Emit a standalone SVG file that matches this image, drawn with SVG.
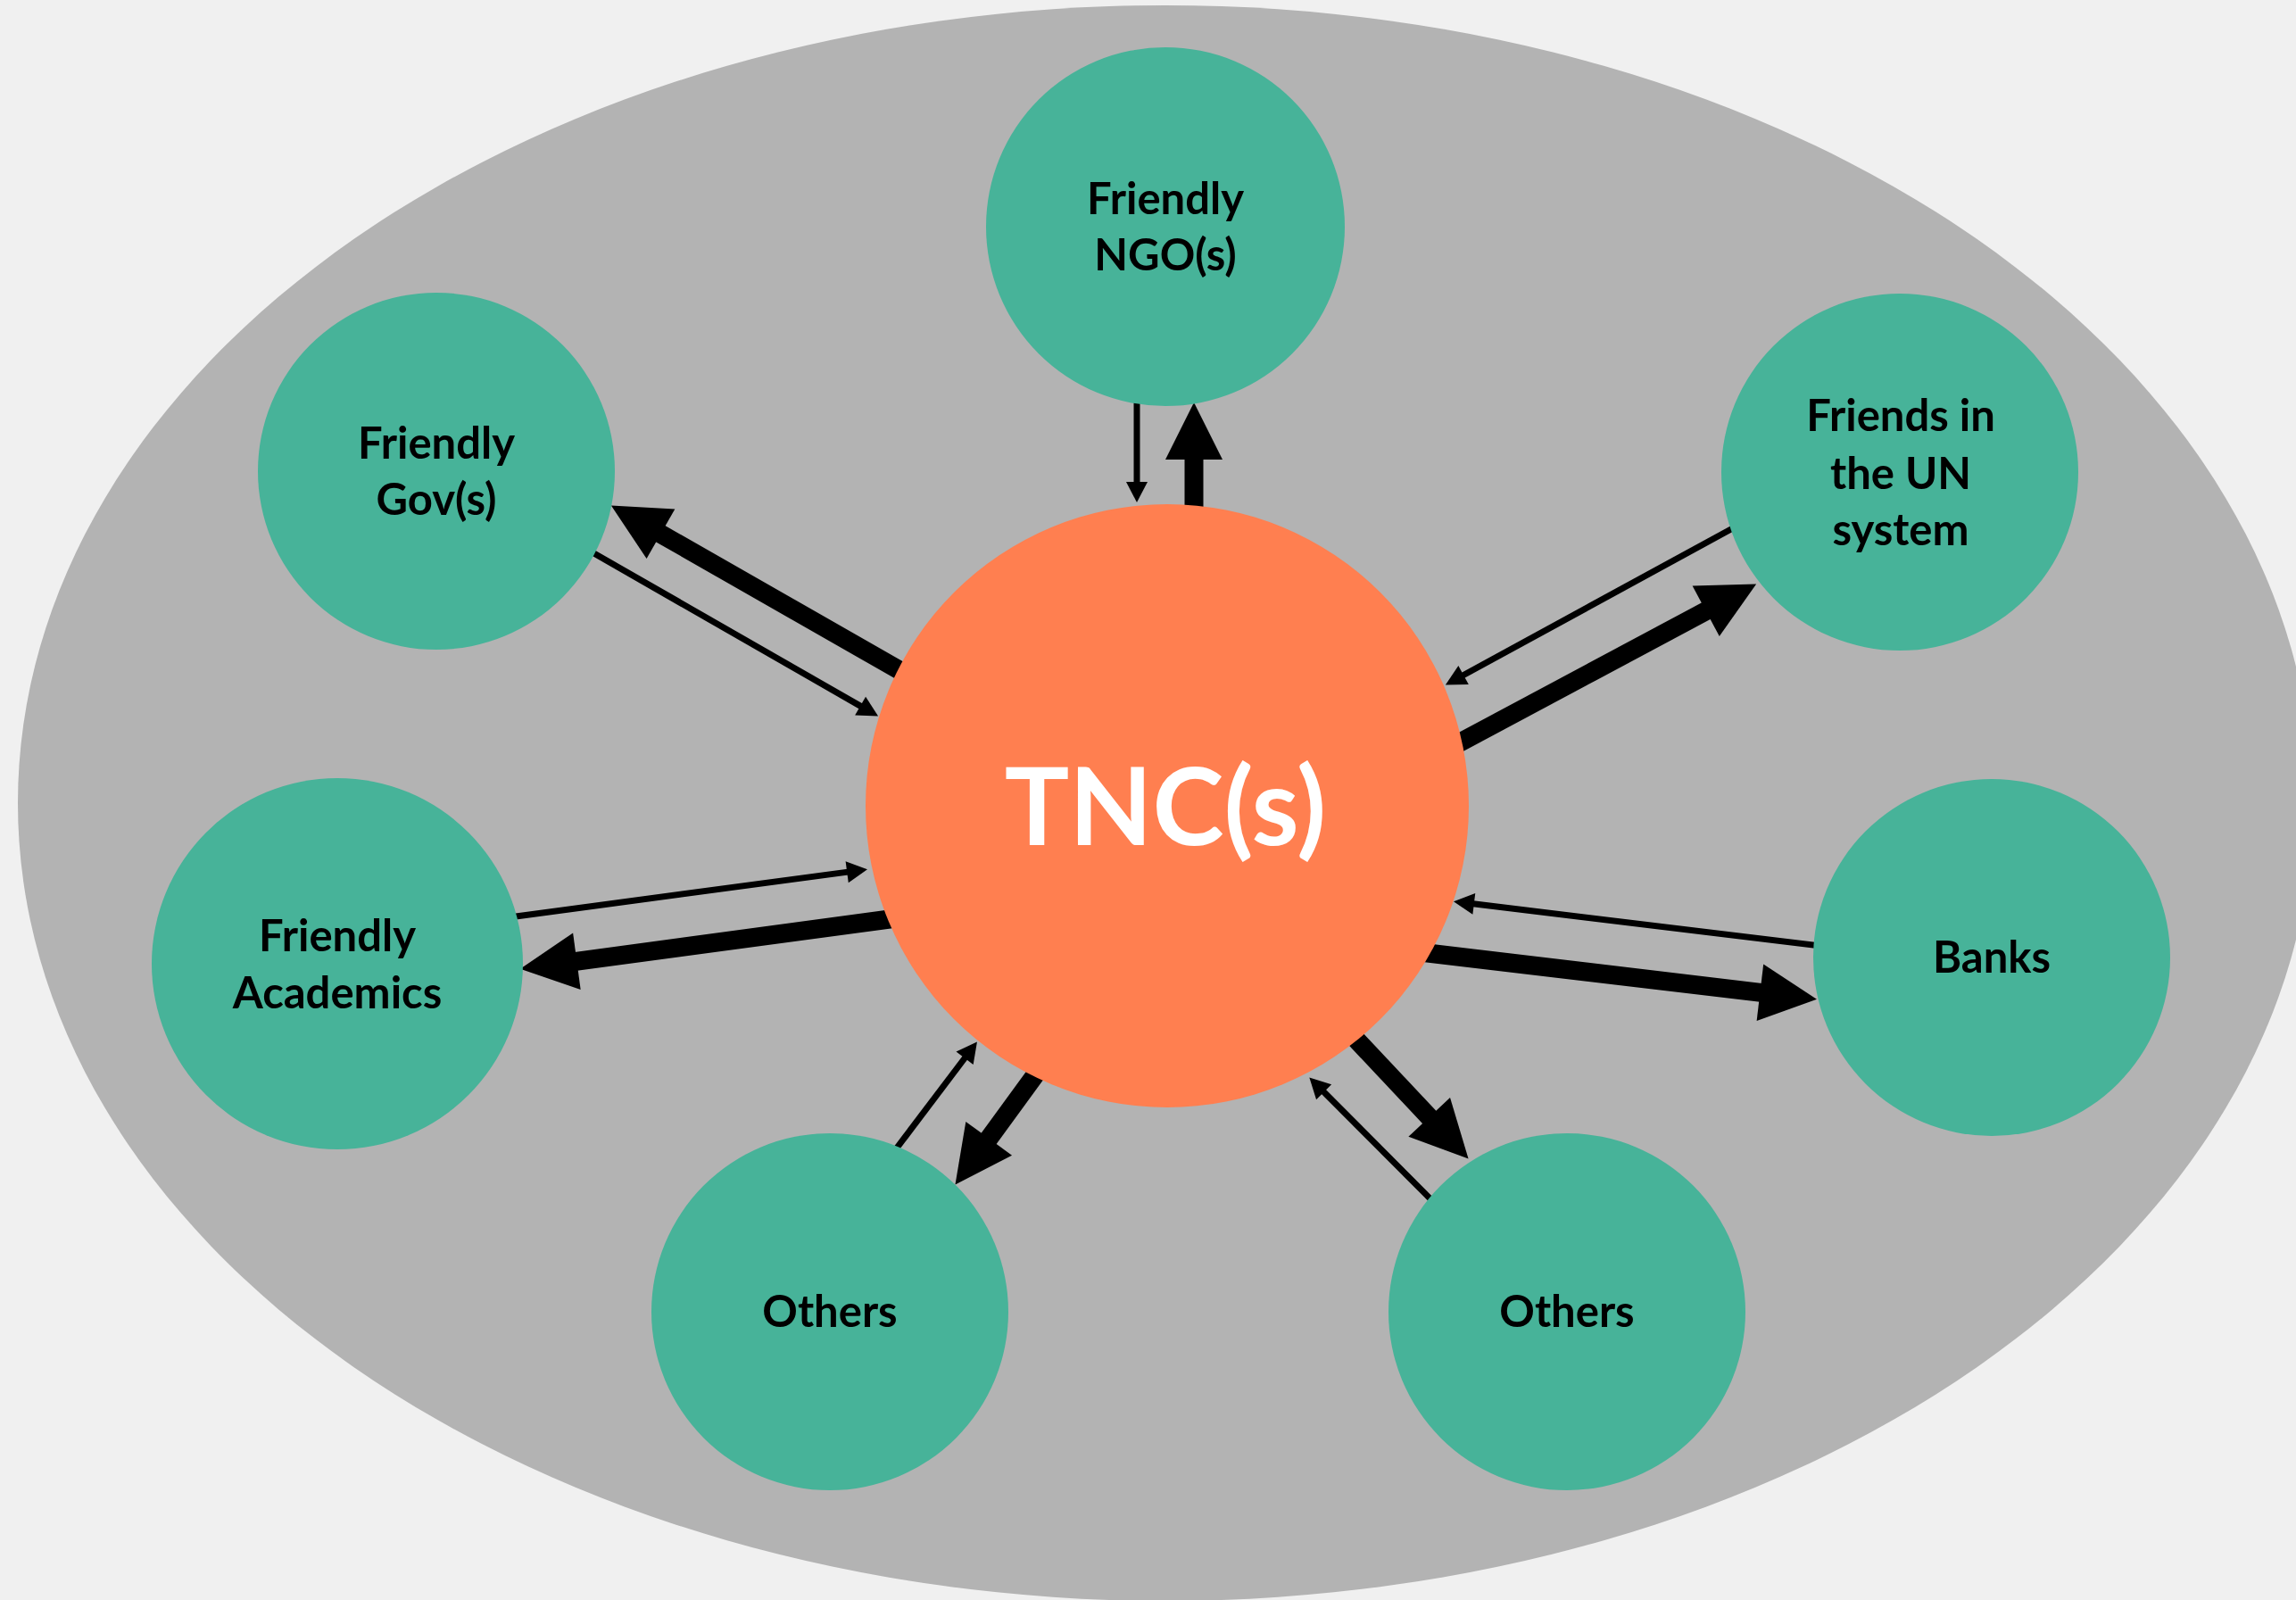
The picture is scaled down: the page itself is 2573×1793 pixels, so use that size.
<svg xmlns="http://www.w3.org/2000/svg" width="2573" height="1793" viewBox="0 0 2573 1793">
<style>
.node{fill:#47B399;}
.lbl{font-family:Lato,"Open Sans","Liberation Sans",sans-serif;font-weight:700;font-size:49px;fill:#000;text-anchor:middle;}
.big{font-family:Lato,"Open Sans","Liberation Sans",sans-serif;font-weight:700;font-size:121px;fill:#fff;text-anchor:middle;}
.thin{stroke:#000;stroke-width:7;fill:none;marker-end:url(#hThin);}
.thick{stroke:#000;stroke-width:21;fill:none;marker-end:url(#hThick);}
</style>
<defs>
<marker id="hThin" markerUnits="userSpaceOnUse" viewBox="0 0 23 24" markerWidth="23" markerHeight="24" refX="1" refY="12" orient="auto" overflow="visible">
<path d="M0,0 L23,12 L0,24 z" fill="#000"/>
</marker>
<marker id="hThick" markerUnits="userSpaceOnUse" viewBox="0 0 64 64" markerWidth="64" markerHeight="64" refX="1" refY="32" orient="auto" overflow="visible">
<path d="M0,0 L64,32 L0,64 z" fill="#000"/>
</marker>
</defs>
<rect x="0" y="0" width="2573" height="1793" fill="#F0F0F0"/>
<ellipse id="frame" cx="1306" cy="900" rx="1286" ry="894" fill="#B3B3B3"/>

<g id="connectors">
<line class="thin" x1="1274" y1="440" x2="1274" y2="541"/>
<line class="thick" x1="1338" y1="580" x2="1338" y2="514"/>
<line class="thick" x1="1019" y1="757.4" x2="739.6" y2="597.8"/>
<line class="thin" x1="656" y1="614.5" x2="965.0" y2="791.6"/>
<line class="thin" x1="1953.2" y1="585.8" x2="1639.2" y2="757.0"/>
<line class="thick" x1="1626.8" y1="837.1" x2="1912.6" y2="684.2"/>
<line class="thin" x1="563.1" y1="1029" x2="950.2" y2="977.1"/>
<line class="thick" x1="1011.9" y1="1028" x2="645.4" y2="1077.4"/>
<line class="thin" x1="2046.9" y1="1060.8" x2="1650.8" y2="1012.8"/>
<line class="thick" x1="1585.1" y1="1066.2" x2="1973.4" y2="1112.4"/>
<line class="thin" x1="997" y1="1297" x2="1081.7" y2="1185.0"/>
<line class="thick" x1="1167.4" y1="1194.6" x2="1107.6" y2="1276.6"/>
<line class="thick" x1="1508.2" y1="1152.4" x2="1602.4" y2="1252.6"/>
<line class="thin" x1="1613.3" y1="1353.9" x2="1482.9" y2="1223.0"/>
</g>

<g id="tnc">
<circle cx="1308" cy="903" r="338" fill="#FF7F50"/>
<text class="big" x="1306" y="947">TNC(s)</text>
</g>
<g id="ngo">
<circle class="node" cx="1306" cy="254" r="201"/>
<text class="lbl" x="1306" y="240">Friendly</text>
<text class="lbl" x="1306" y="303">NGO(s)</text>
</g>
<g id="gov">
<circle class="node" cx="489" cy="528" r="200"/>
<text class="lbl" x="489" y="514">Friendly</text>
<text class="lbl" x="489" y="577">Gov(s)</text>
</g>
<g id="un">
<circle class="node" cx="2129" cy="529" r="200"/>
<text class="lbl" x="2130" y="483">Friends in</text>
<text class="lbl" x="2130" y="548">the UN</text>
<text class="lbl" x="2130" y="611">system</text>
</g>
<g id="academics">
<circle class="node" cx="378" cy="1080" r="208"/>
<text class="lbl" x="378" y="1066">Friendly</text>
<text class="lbl" x="378" y="1130">Academics</text>
</g>
<g id="banks">
<circle class="node" cx="2232" cy="1073" r="200"/>
<text class="lbl" x="2232" y="1090">Banks</text>
</g>
<g id="others-left">
<circle class="node" cx="930" cy="1470" r="200"/>
<text class="lbl" x="930" y="1487">Others</text>
</g>
<g id="others-right">
<circle class="node" cx="1756" cy="1470" r="200"/>
<text class="lbl" x="1756" y="1487">Others</text>
</g>
</svg>
